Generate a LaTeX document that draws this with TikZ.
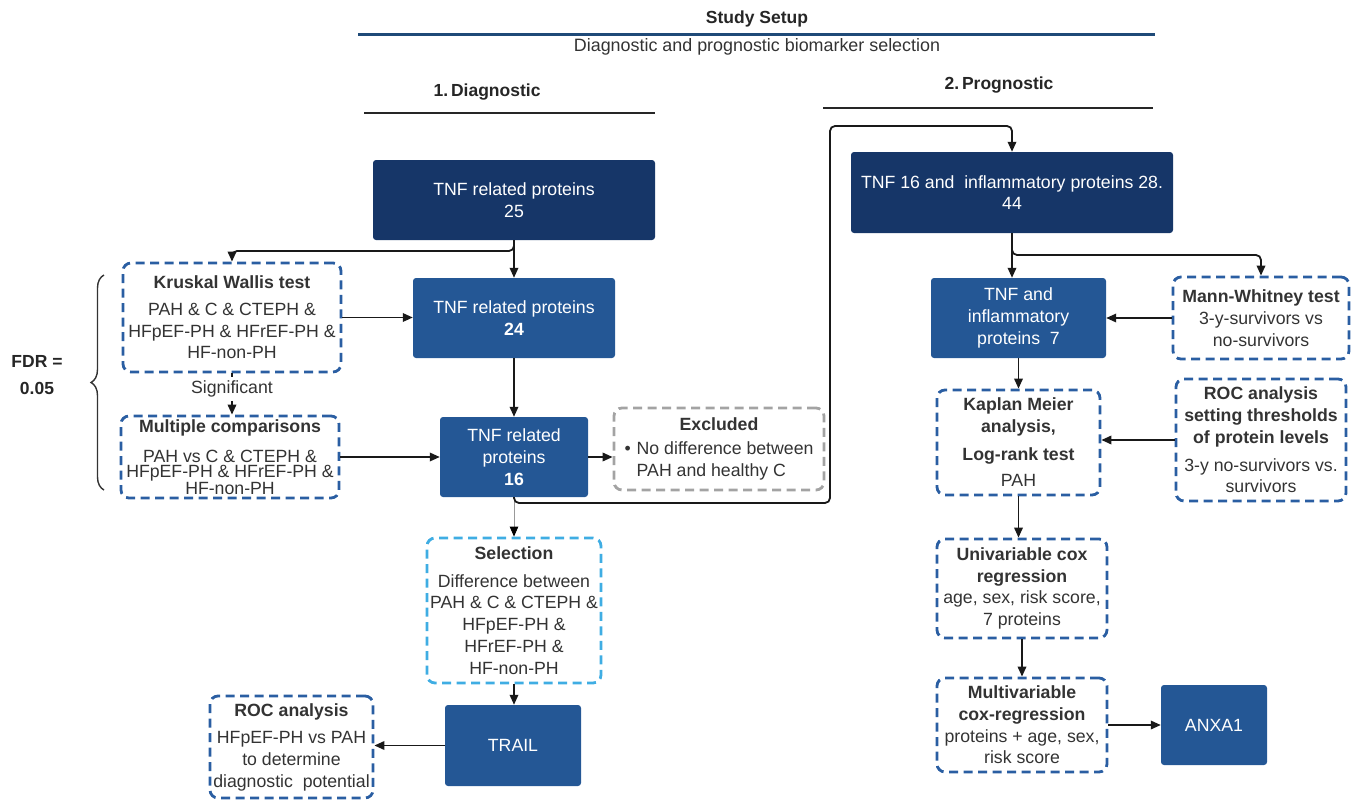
\documentclass[tikz,border=0pt]{standalone}
\usepackage{fontspec}
\setmainfont{Liberation Sans}
\usetikzlibrary{arrows.meta,decorations.pathreplacing}
\definecolor{navy}{HTML}{163668}
\definecolor{midblue}{HTML}{245795}
\definecolor{dblue}{HTML}{2A5EA2}
\definecolor{lblue}{HTML}{3FADE3}
\definecolor{xgray}{HTML}{A3A3A3}
\definecolor{hdrblue}{HTML}{1F4A78}
\definecolor{txt}{HTML}{333333}
\begin{document}
\begin{tikzpicture}[x=1pt,y=-1pt,
  every node/.style={font=\fontsize{17.7}{21.7}\selectfont, text=txt},
  fillbox/.style={fill=midblue, rounded corners=3pt, text=white, align=center, inner sep=0pt},
  navybox/.style={fillbox, fill=navy},
  dbox/.style={draw=dblue, line width=2.8pt, dash pattern=on 9pt off 5.5pt, rounded corners=8pt, align=center, inner sep=0pt},
  hdr/.style={font=\bfseries\fontsize{17.5}{21}\selectfont, text=black!85},
  arr/.style={-{Triangle[length=10pt,width=8.5pt]}, line width=1.8pt, draw=black!90},
  link/.style={line width=1.8pt, draw=black!90}
]
\useasboundingbox (0,0) rectangle (1357,800);

% header
\node[hdr] (title) at (757,19) {Study Setup};
\draw[hdrblue, line width=3pt] (358,35) -- (1155,35);
\node[font=\fontsize{17.9}{21}\selectfont] (sub) at (757,47) {Diagnostic and prognostic biomarker selection};
\node[hdr] (diag) at (487,92) {1.\,Diagnostic};
\draw[black!85, line width=2pt] (364,113) -- (655,113);
\node[hdr] (prog) at (999,85) {2.\,Prognostic};
\draw[black!85, line width=2pt] (823,108) -- (1153,108);

% left column
\node[navybox, minimum width=282pt, minimum height=80pt] (A) at (514,200) {TNF related proteins\\25};
\node[fillbox, minimum width=202pt, minimum height=80pt] (B) at (514,318) {TNF related proteins\\\textbf{24}};
\node[fillbox, minimum width=148pt, minimum height=80pt] (C) at (514,457) {TNF related\\proteins\\\textbf{16}};
\node[dbox, draw=xgray, minimum width=210pt, minimum height=82pt] (X) at (719,449)
  {\begin{tabular}{@{}l@{\hspace{6pt}}l@{}}\multicolumn{2}{c}{\bfseries Excluded}\\[3pt]
   \textbullet & No difference between\\ & PAH and healthy C\end{tabular}};
\node[dbox, minimum width=218pt, minimum height=109pt] (K) at (232,317.5)
  {\textbf{Kruskal Wallis test}\\[5pt]PAH \& C \& CTEPH \&\\HFpEF-PH \& HFrEF-PH \&\\HF-non-PH};
\node (sig) at (232,389) {Significant};
\node[dbox, minimum width=218pt, minimum height=82pt, font=\fontsize{17.7}{15}\selectfont] (M) at (230,457)
  {\textbf{Multiple comparisons}\\[13pt]PAH vs C \& CTEPH \&\\HFpEF-PH \& HFrEF-PH \&\\HF-non-PH};
\draw[decorate, decoration={brace, amplitude=13pt}, line width=1.4pt, draw=black!80] (104,490) -- (104,275);
\node[hdr, align=center, font=\bfseries\fontsize{17.5}{27}\selectfont] (fdr) at (37,375) {FDR =\\0.05};
\node[dbox, draw=lblue, minimum width=174pt, minimum height=145pt] (S) at (514,610.5)
  {\textbf{Selection}\\[6pt]Difference between\\PAH \& C \& CTEPH \&\\HFpEF-PH \&\\HFrEF-PH \&\\HF-non-PH};
\node[fillbox, minimum width=136pt, minimum height=81pt] (T) at (513,745.5) {TRAIL};
\node[dbox, minimum width=163pt, minimum height=102pt] (RL) at (291.5,747)
  {\textbf{ROC analysis}\\[6pt]HFpEF-PH vs PAH\\to determine\\diagnostic\ \ potential};

% right column
\node[navybox, minimum width=322pt, minimum height=81pt] (D) at (1012,192.5) {TNF 16 and\ \ inflammatory proteins 28.\\44};
\node[fillbox, minimum width=175pt, minimum height=80pt] (E) at (1018.5,318) {TNF and\\inflammatory\\proteins\ \ 7};
\node[dbox, minimum width=176pt, minimum height=82pt] (MW) at (1261,318)
  {\textbf{Mann-Whitney test}\\3-y-survivors vs\\no-survivors};
\node[dbox, minimum width=163pt, minimum height=105pt] (KM) at (1018.5,442.5)
  {\textbf{Kaplan Meier}\\\textbf{analysis,}\\[6pt]\textbf{Log-rank test}\\[5pt]PAH};
\node[dbox, minimum width=170pt, minimum height=122pt] (R2) at (1261,440)
  {\textbf{ROC analysis}\\\textbf{setting thresholds}\\\textbf{of protein levels}\\[6pt]3-y no-survivors vs.\\survivors};
\node[dbox, minimum width=170pt, minimum height=99pt] (U) at (1022,588.5)
  {\textbf{Univariable cox}\\\textbf{regression}\\age, sex, risk score,\\7 proteins};
\node[dbox, minimum width=170pt, minimum height=94pt] (MV) at (1022,725)
  {\textbf{Multivariable}\\\textbf{cox-regression}\\proteins + age, sex,\\risk score};
\node[fillbox, minimum width=106pt, minimum height=80pt] (AN) at (1214,725) {ANXA1};

% connectors left
\draw[arr] (A.south) -- (B.north);
\draw[arr, rounded corners=5pt] (A.south) -- (514,251) -- (232,251) -- (K.north -| 232,0);
\draw[arr] (K.east) -- (K.east -| B.west);
\draw[link] (K.south -| 232,0) -- (sig.north);
\draw[arr] (sig.south) -- (M.north -| 232,0);
\draw[arr] (M.east) -- (C.west);
\draw[arr] (B.south) -- (C.north);
\draw[arr] (C.east) -- (C.east -| X.west);
\draw[-{Triangle[length=10pt,width=8.5pt,color=black]}, line width=0.8pt, draw=black!40] (C.south) -- (S.north);
\draw[arr, rounded corners=5pt] (C.south) -- (514,503) -- (830,503) -- (830,126) -- (1012,126) -- (D.north);
\draw[arr] (S.south) -- (S.south |- T.north);
\draw[arr] (T.west) -- (T.west -| RL.east);

% connectors right
\draw[arr] (D.south) -- (D.south |- E.north);
\draw[arr, rounded corners=5pt] (D.south) -- (1012,255) -- (1261,255) -- (MW.north);
\draw[arr] (MW.west) -- (E.east);
\draw[arr] (E.south) -- (KM.north);
\draw[arr] (R2.west) -- (R2.west -| KM.east);
\draw[arr] (KM.south) -- (KM.south |- U.north);
\draw[arr] (U.south) -- (MV.north);
\draw[arr] (MV.east) -- (AN.west);
\end{tikzpicture}
\end{document}
